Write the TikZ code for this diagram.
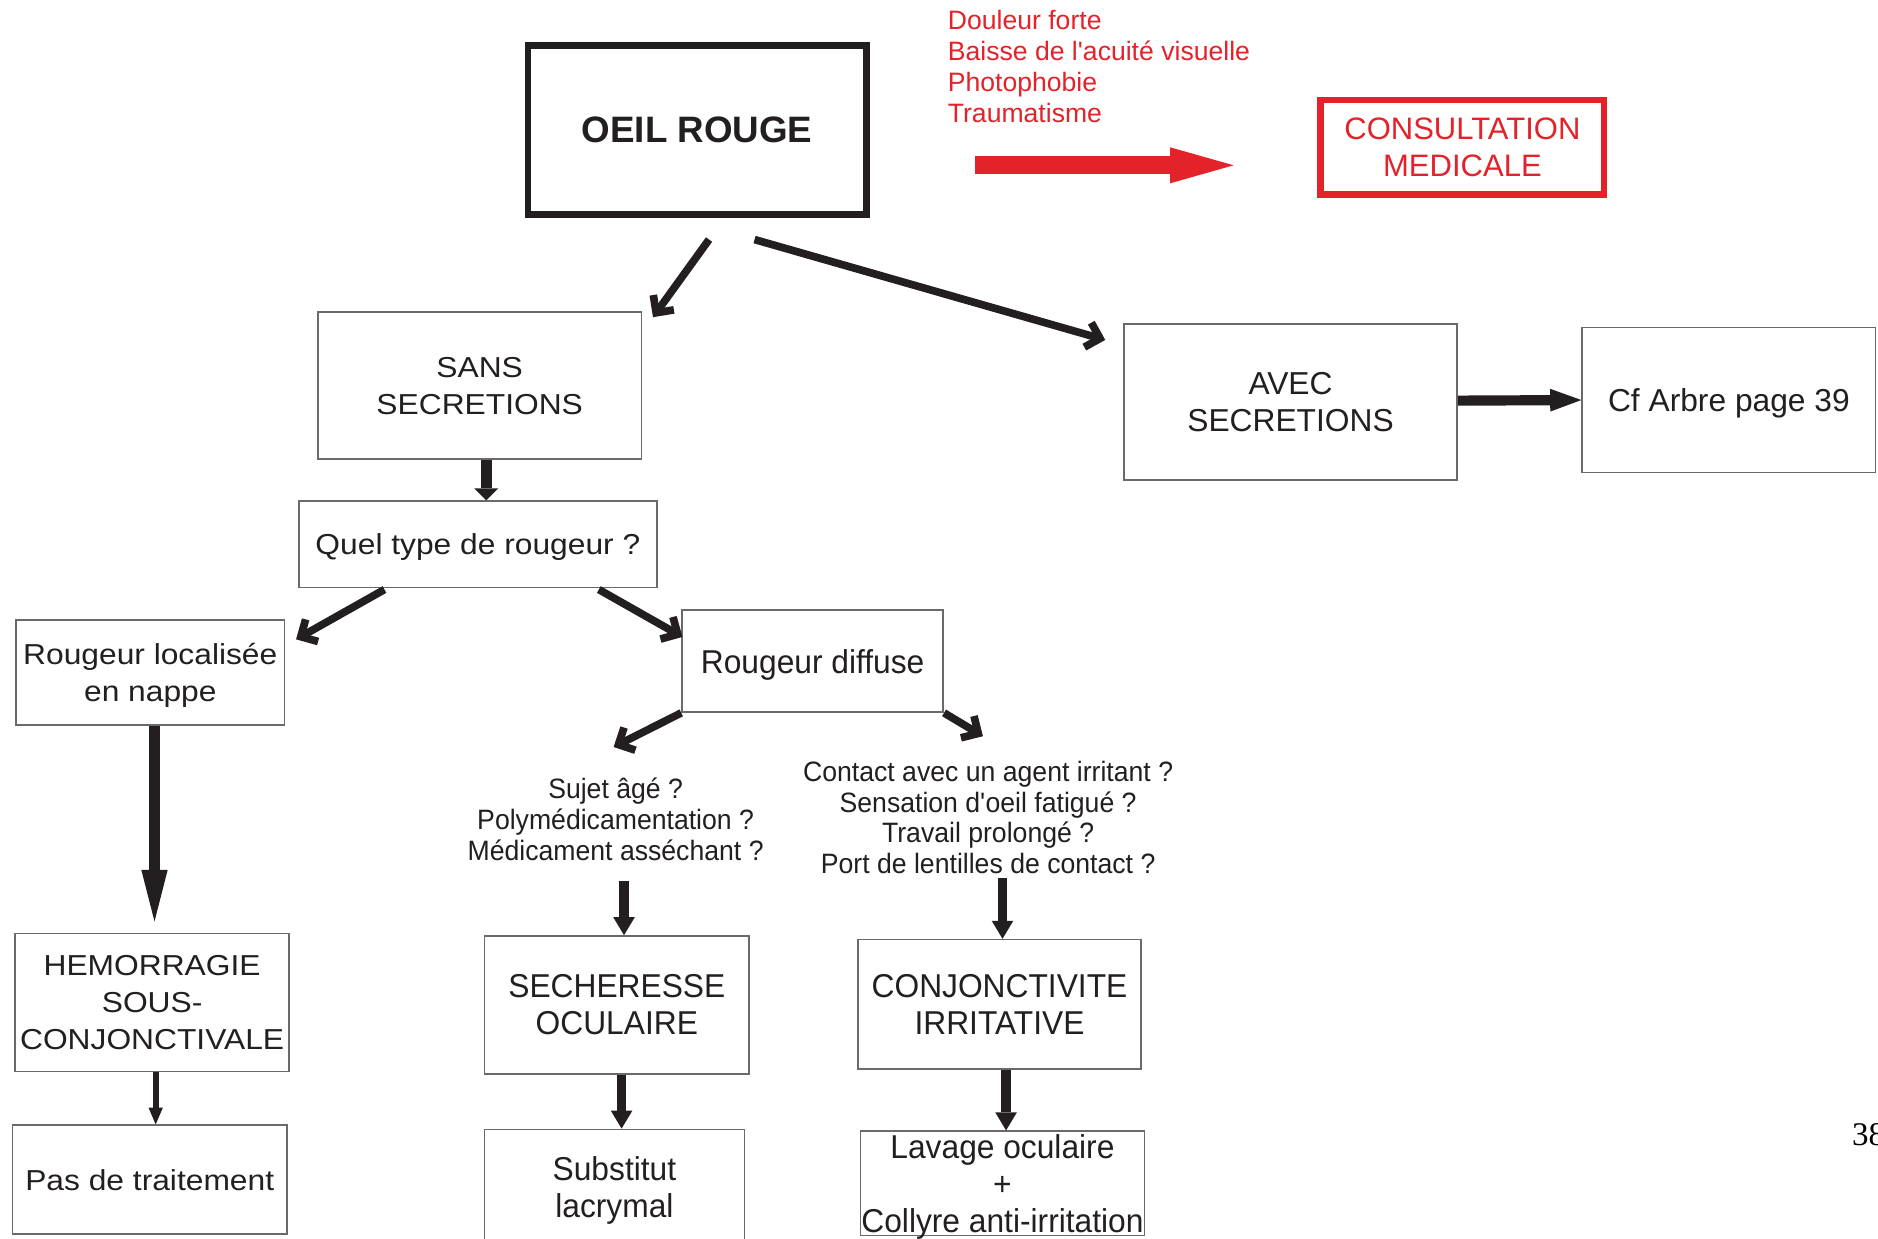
\documentclass[tikz,border=0pt]{standalone}
\usepackage{fontspec}
\setmainfont{Liberation Sans}
\newfontfamily\widefont[FakeStretch=1.1]{Liberation Sans}
\newfontfamily\midfont[FakeStretch=0.96]{Liberation Sans}
\newfontfamily\qfont[FakeStretch=0.95]{Liberation Sans}
\newfontfamily\serifnum{Liberation Serif}
\usetikzlibrary{arrows.meta,calc}
\definecolor{ink}{HTML}{231F20}
\definecolor{alarm}{HTML}{E4222A}
\definecolor{boxgray}{HTML}{6A6A6A}
\tikzset{
  box/.style={draw=boxgray,line width=0.7pt,inner sep=0pt,align=center,text=ink,text depth=0pt},
  wtext/.style={font=\widefont\fontsize{12.05}{15.5}\selectfont},
  mtext/.style={font=\midfont\fontsize{13.8}{15.4}\selectfont},
  ntext/.style={font=\fontsize{13.25}{15.5}\selectfont},
  qtext/.style={font=\qfont\fontsize{11.7}{12.9}\selectfont,inner sep=0pt,align=center,text=ink},
  barb/.style={draw=ink,line width=3.2pt,-{Straight Barb[angle=90:7.5pt]}},
  fat/.style args={#1/#2/#3}{draw=ink,line width=#1,-{Triangle[length=#2,width=#3,line width=0pt]}}
}
\begin{document}
\begin{tikzpicture}[x=0.5pt,y=-0.5pt]
\useasboundingbox (0,0) rectangle (1568,1034);
\fill[white] (0,0) rectangle (1568,1034);

% main box
\node[box,draw=ink,line width=2.75pt,minimum width=141.25pt,minimum height=70.75pt,
      font=\bfseries\fontsize{15.35}{18}\selectfont] (oeil) at (582,108.5) {OEIL ROUGE};

% red warning part
\node[anchor=west,align=left,inner sep=0pt,text=alarm,
      font=\fontsize{11.1}{12.85}\selectfont] (signs) at (791,55.5)
  {Douleur forte\\Baisse de l\textquotesingle acuité visuelle\\Photophobie\\Traumatisme};
\node[box,draw=alarm,text=alarm,line width=2.7pt,minimum width=118.3pt,minimum height=39.3pt,
      font=\fontsize{12.95}{15.5}\selectfont] (consult) at (1221,123) {CONSULTATION\\MEDICALE};
\coordinate (ra1) at (814,138);
\coordinate (ra2) at (1030,138);
\draw[draw=alarm,line width=7.5pt,-{Triangle[length=26.5pt,width=15pt,line width=0pt]}] (ra1) -- (ra2);

% second level
\node[box,wtext,minimum width=135pt,minimum height=61.5pt] (sans) at (400.5,322) {SANS\\SECRETIONS};
\node[box,ntext,minimum width=139pt,minimum height=65pt] (avec) at (1077.5,335.5) {AVEC\\SECRETIONS};
\node[box,ntext,minimum width=122.5pt,minimum height=60.5pt] (cf) at (1443.5,334) {Cf Arbre page 39};

\node[box,wtext,minimum width=149.5pt,minimum height=36pt] (quel) at (399,454.5) {Quel type de rougeur ?};
\node[box,wtext,minimum width=112pt,minimum height=44pt] (loc) at (125.5,561.5) {Rougeur localisée\\en nappe};
\node[box,mtext,minimum width=109pt,minimum height=42.5pt] (diff) at (678.5,552) {Rougeur diffuse};

\node[qtext] (q1) at (514,684) {Sujet âgé ?\\Polymédicamentation ?\\Médicament asséchant ?};
\node[qtext] (q2) at (825,682.5) {Contact avec un agent irritant ?\\Sensation d\textquotesingle oeil fatigué ?\\Travail prolongé ?\\Port de lentilles de contact ?};

\node[box,wtext,minimum width=114.5pt,minimum height=57.5pt] (hemo) at (127,837) {HEMORRAGIE\\SOUS-\\CONJONCTIVALE};
\node[box,wtext,minimum width=114.5pt,minimum height=45.5pt] (pas) at (125,985) {Pas de traitement};
\node[box,mtext,minimum width=110.5pt,minimum height=57.5pt] (sech) at (515,839) {SECHERESSE\\OCULAIRE};
\node[box,mtext,minimum width=118pt,minimum height=54pt] (conj) at (834.5,838.5) {CONJONCTIVITE\\IRRITATIVE};
\node[box,mtext,minimum width=108.5pt,minimum height=48pt] (subst) at (513,991) {Substitut\\lacrymal};
\node[box,mtext,minimum width=118.5pt,minimum height=43.5pt] (lav) at (837,988) {Lavage oculaire\\+\\Collyre anti-irritation};

\node[anchor=base west,inner sep=0pt,font=\serifnum\fontsize{13.8}{16}\selectfont,text=black] (pg) at (1546,956) {38};

% connectors
\draw[barb] ($(oeil.south)+(10,18)$) -- ($(sans.north east)+(9,5)$);
\draw[barb] ($(oeil.south)+(48,18)$) -- ($(avec.north west)+(-15,14)$);
\draw[fat=4.25pt/13pt/9.5pt] ($(avec.east)+(0,-1)$) -- (cf.west);
\draw[fat=4.5pt/5pt/10pt] ($(sans.south)+(5.5,0)$) -- ($(quel.north)+(7,0)$);
\draw[barb] ($(quel.south)+(-78,1)$) -- ($(loc.north east)+(9,17)$);
\draw[barb] ($(quel.south)+(101,1)$) -- ($(diff.north west)+(1,23)$);
\draw[barb] (diff.south west) -- ($(diff.south west)+(-56.5,28.5)$);
\draw[barb] (diff.south east) -- ($(diff.south east)+(32.5,19.5)$);
\draw[fat=4.25pt/21.5pt/11pt] ($(loc.south)+(3.5,0)$) -- ($(hemo.north)+(2,-9.5)$);
\draw[fat=2.6pt/7pt/6pt] ($(hemo.south)+(3,0)$) -- ($(pas.north)+(5,0)$);
\draw[fat=4pt/7.5pt/9pt] ($(q1.south)+(7,17)$) -- ($(sech.north)+(6,0)$);
\draw[fat=4pt/7.5pt/9pt] ($(q2.south)+(12,3)$) -- ($(conj.north)+(2.5,0)$);
\draw[fat=4pt/7.5pt/9pt] ($(sech.south)+(4,0)$) -- ($(subst.north)+(6,0)$);
\draw[fat=4pt/7.5pt/9pt] ($(conj.south)+(5.5,0)$) -- ($(lav.north)+(3,0)$);
\end{tikzpicture}
\end{document}
